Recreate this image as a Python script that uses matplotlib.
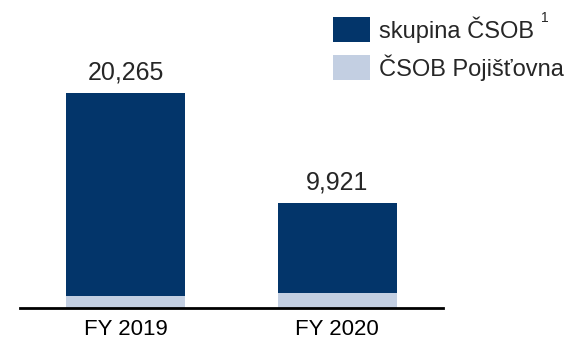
import matplotlib
matplotlib.use("Agg")
import matplotlib.pyplot as plt
from matplotlib.patches import Rectangle

plt.rcParams['font.family'] = ['Liberation Sans', 'DejaVu Sans']

categories = ["FY 2019", "FY 2020"]
skupina = [19175, 8581]
pojistovna = [1090, 1340]
totals = [20265, 9921]
series_names = ["skupina ČSOB", "ČSOB Pojišťovna"]

dark = "#03356A"
light = "#C3CFE2"
text_col = "#262626"

W, H = 570, 340
fig = plt.figure(figsize=(W / 100, H / 100), dpi=100)
ax = fig.add_axes([20 / W, (H - 307.5) / H, 423 / W, 307.5 / H])

x = range(len(categories))
ax.bar(x, pojistovna, width=0.563, color=light, linewidth=0)
ax.bar(x, skupina, width=0.563, bottom=pojistovna, color=dark, linewidth=0)

for xi, t in zip(x, totals):
    ax.annotate(f"{t:,}", (xi, t), xytext=(0, 6), textcoords="offset points",
                ha="center", va="bottom", fontsize=18, color=text_col)

ax.set_xlim(-0.499, 1.501)
ax.set_ylim(0, 29060)
ax.set_xticks(list(x))
ax.set_xticklabels(categories, fontsize=16, color="black")
ax.tick_params(axis="x", length=0, pad=8)
ax.set_yticks([])
for side in ("top", "right", "left"):
    ax.spines[side].set_visible(False)
ax.spines["bottom"].set_linewidth(2)
ax.spines["bottom"].set_color("black")

# legend drawn as swatches plus labels
for i, (name, col) in enumerate(zip(series_names, [dark, light])):
    top = 17 + i * 38
    fig.add_artist(Rectangle((333 / W, (H - top - 25) / H), 37 / W, 25 / H,
                             transform=fig.transFigure, color=col, lw=0))
    fig.text(379 / W, (H - top - 12.5) / H, name, fontsize=17, color=text_col,
             ha="left", va="center")
fig.text(541 / W, (H - 18) / H, "1", fontsize=10, color=text_col,
         ha="left", va="center")

fig.savefig("out.png", dpi=100)
